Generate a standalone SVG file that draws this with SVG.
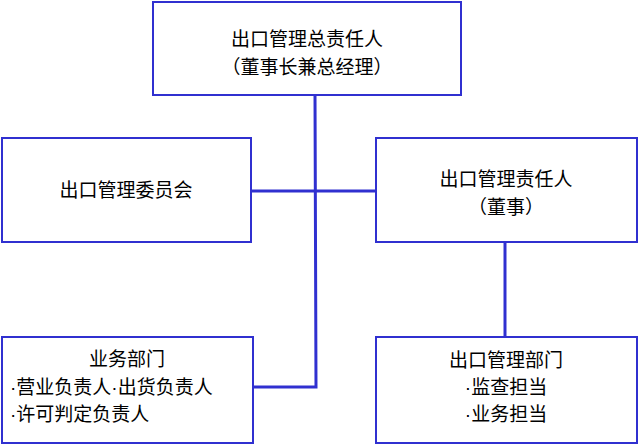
<svg xmlns="http://www.w3.org/2000/svg" width="639" height="445" viewBox="0 0 639 445">
<style>
.b{fill:#fff;stroke:#3030d0;stroke-width:2}
.c{fill:none;stroke:#3030d0;stroke-width:3}
text{font-family:"Noto Sans CJK SC","Noto Sans CJK JP",sans-serif;font-size:19px;fill:#000;text-anchor:middle}
.d{font-family:"Liberation Sans",sans-serif}
</style>
<rect width="639" height="445" fill="#fff"/>
<g id="connectors">
<path class="c" d="M315 95 L316 387 L253 387"/>
<path class="c" d="M252 191 L376 191"/>
<path class="c" d="M505 242 L505 337"/>
</g>
<g id="top"><rect class="b" x="153" y="2" width="308" height="93"/>
<text x="307" y="46">出口管理总责任人</text><text x="307" y="74">（董事长兼总经理）</text></g>
<g id="committee"><rect class="b" x="2" y="138" width="249" height="104"/>
<text x="126" y="197">出口管理委员会</text></g>
<g id="manager"><rect class="b" x="376" y="138" width="261" height="104"/>
<text x="506" y="186">出口管理责任人</text><text x="506" y="214">（董事）</text></g>
<g id="business"><rect class="b" x="2" y="337" width="251" height="106"/>
<text x="127" y="366">业务部门</text><text x="10" y="394" style="text-anchor:start"><tspan class="d">·</tspan>营业负责人<tspan class="d">·</tspan>出货负责人</text><text x="10" y="421" style="text-anchor:start"><tspan class="d">·</tspan>许可判定负责人</text></g>
<g id="dept"><rect class="b" x="376" y="337" width="261" height="106"/>
<text x="506" y="367">出口管理部门</text><text x="506" y="394"><tspan class="d">·</tspan>监查担当</text><text x="506" y="421"><tspan class="d">·</tspan>业务担当</text></g>
</svg>
